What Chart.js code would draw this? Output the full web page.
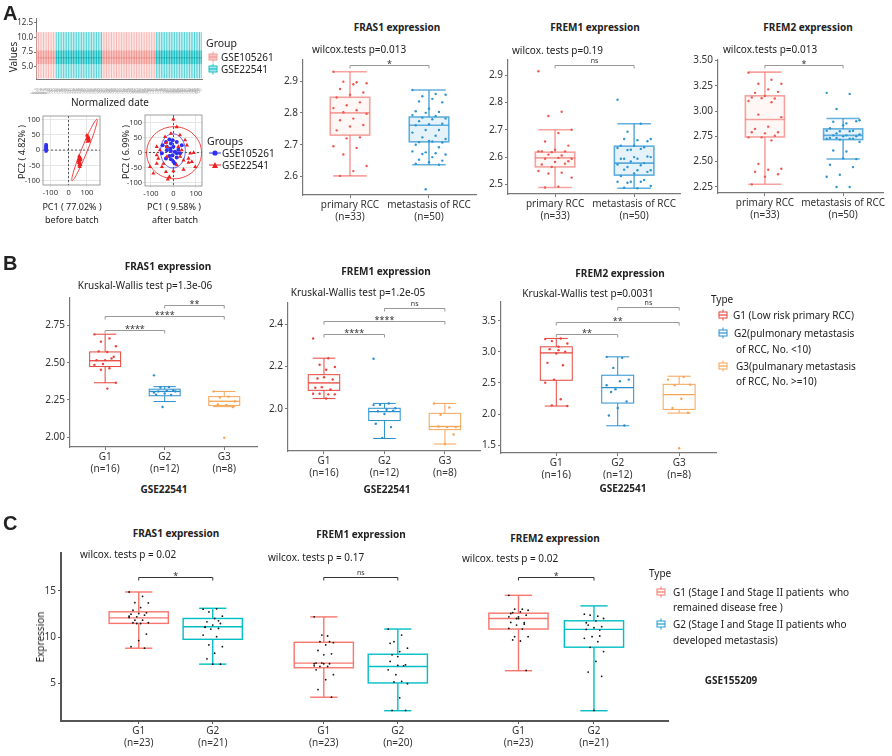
<!DOCTYPE html>
<html>
<head>
<meta charset="utf-8">
<script src="https://cdn.jsdelivr.net/npm/chart.js@4.4.1/dist/chart.umd.min.js"></script>
<style>
  body { margin: 0; width: 892px; height: 756px; position: relative; overflow: hidden; background: #fff; color: #222; font-family: 'Noto Sans', sans-serif; }
  canvas { position: absolute; }
  .t { position: absolute; white-space: nowrap; line-height: 1; font-size: 10px; }
  .b { font-weight: bold; }
  .big { font: bold 20px 'Liberation Sans', Arial, sans-serif; }
  svg { position: absolute; }
</style>
</head>
<body>
<script>
// ---------- data: panel A, normalized values ----------
const valueGroups = ['GSE105261', 'GSE22541', 'GSE105261', 'GSE22541'];
const valueBlockSizes = [12, 28, 32, 28];
const valueStats105261 = [3.0, 5.4, 6.5, 7.8, 10.9];
const valueStats22541 = [3.0, 5.4, 6.5, 7.8, 10.9];
const valueTicks = [5, 7.5, 10, 12.5];

// ---------- data: panel A, PCA ----------
const pcaBeforeBlue = [{x:-124,y:-4},{x:-122,y:0},{x:-125,y:3},{x:-121,y:6},{x:-123,y:9},{x:-124,y:12},{x:-121,y:15},{x:-123,y:18},{x:-122,y:-2},{x:-125,y:8},{x:-120,y:11},{x:-124,y:16}];
const pcaBeforeRed = [{x:58,y:-20},{x:62,y:-25},{x:55,y:-30},{x:65,y:-33},{x:60,y:-38},{x:57,y:-42},{x:63,y:-45},{x:59,y:-50},{x:61,y:-55},{x:66,y:-28},{x:54,y:-36},{x:64,y:-48},
  {x:104,y:28},{x:108,y:32},{x:102,y:36},{x:110,y:40},{x:106,y:44},{x:100,y:48},{x:112,y:34},{x:105,y:38},{x:109,y:30}];
const pcaAfterRed = [{x:0,y:111},{x:15,y:85},{x:-11,y:63},{x:29,y:58},{x:-33,y:33},{x:-29,y:19},{x:52,y:41},{x:60,y:24},{x:75,y:-3},{x:90,y:-1},{x:67,y:-20},{x:82,y:-31},
  {x:45,y:-26},{x:97,y:-48},{x:45,y:-57},{x:0,y:-62},{x:-33,y:-65},{x:-51,y:-48},{x:-74,y:-37},{x:-89,y:-70},{x:-104,y:-48},{x:-25,y:-90},{x:-18,y:-81},{x:-74,y:-9},
  {x:-60,y:8},{x:-74,y:19},{x:-37,y:52},{x:22,y:19},{x:37,y:8},{x:-29,y:-14},{x:-67,y:-20},{x:67,y:-34},{x:15,y:-42},{x:30,y:-14},{x:-44,y:-37}];
const pcaAfterBlue = [{x:-33,y:35},{x:-18,y:43},{x:-11,y:30},{x:0,y:19},{x:15,y:35},{x:-48,y:24},{x:-29,y:7},{x:-11,y:5},{x:7,y:2},{x:30,y:-3},{x:-4,y:-9},{x:-18,y:-12},
  {x:15,y:-17},{x:-33,y:-20},{x:0,y:-31},{x:-11,y:-23},{x:22,y:9},{x:37,y:24},{x:-29,y:19},{x:-3,y:41},{x:15,y:-3},{x:-14,y:13},{x:-51,y:-3},{x:7,y:-37}];
const pcaBeforeXTicks = [-100, 0, 100];
const pcaAfterXTicks = [-100, -50, 0, 50, 100];
const pcaYTicks = [-100, -50, 0, 50, 100];

// ---------- data: panel A, GEO boxplots ----------
const aLabels = [['primary RCC', '(n=33)'], ['metastasis of RCC', '(n=50)']];
const aFras1Stats = [[2.602, 2.73, 2.80, 2.849, 2.929], [2.637, 2.709, 2.761, 2.787, 2.872]];
const aFras1Primary = [2.929, 2.896, 2.898, 2.893, 2.89, 2.875, 2.864, 2.857, 2.848, 2.833, 2.824, 2.815, 2.808, 2.802, 2.797, 2.782, 2.777, 2.762, 2.757, 2.745, 2.723, 2.72, 2.695, 2.69, 2.669, 2.633, 2.617, 2.602];
const aFras1Meta = [2.872, 2.859, 2.852, 2.857, 2.844, 2.836, 2.833, 2.813, 2.805, 2.803, 2.80, 2.793, 2.79, 2.785, 2.782, 2.78, 2.774, 2.766, 2.764, 2.761, 2.746, 2.746, 2.738, 2.728, 2.723, 2.718, 2.71, 2.708, 2.707, 2.712, 2.70, 2.692, 2.676, 2.679, 2.673, 2.671, 2.669, 2.661, 2.653, 2.65, 2.645, 2.64, 2.637, 2.56];
const aFrem1Stats = [[2.489, 2.564, 2.597, 2.618, 2.70], [2.486, 2.534, 2.578, 2.64, 2.722]];
const aFrem1Primary = [2.914, 2.766, 2.75, 2.70, 2.688, 2.657, 2.642, 2.627, 2.621, 2.621, 2.618, 2.621, 2.606, 2.609, 2.594, 2.597, 2.594, 2.585, 2.582, 2.573, 2.576, 2.564, 2.549, 2.543, 2.54, 2.525, 2.492, 2.489];
const aFrem1Meta = [2.81, 2.722, 2.693, 2.666, 2.662, 2.666, 2.658, 2.642, 2.642, 2.636, 2.627, 2.633, 2.63, 2.626, 2.60, 2.594, 2.594, 2.602, 2.60, 2.594, 2.578, 2.584, 2.573, 2.57, 2.564, 2.552, 2.552, 2.554, 2.546, 2.54, 2.531, 2.516, 2.51, 2.51, 2.51, 2.506, 2.494, 2.486, 2.488];
const aFrem2Stats = [[2.276, 2.744, 2.917, 3.151, 3.385], [2.526, 2.718, 2.76, 2.824, 2.926]];
const aFrem2Primary = [3.38, 3.31, 3.27, 3.27, 3.215, 3.18, 3.19, 3.15, 3.135, 3.125, 3.128, 3.10, 3.087, 2.965, 2.94, 2.846, 2.824, 2.79, 2.78, 2.79, 2.756, 2.74, 2.74, 2.71, 2.478, 2.43, 2.42, 2.40, 2.375, 2.35, 2.275];
const aFrem2Meta = [3.18, 3.17, 3.02, 2.91, 2.878, 2.894, 2.90, 2.86, 2.83, 2.805, 2.80, 2.805, 2.80, 2.78, 2.77, 2.76, 2.76, 2.75, 2.75, 2.734, 2.728, 2.718, 2.728, 2.728, 2.734, 2.695, 2.60, 2.61, 2.525, 2.532, 2.47, 2.446, 2.37, 2.35, 2.25, 2.25];

// ---------- data: panel B, GSE22541 ----------
const bLabels = [['G1', '(n=16)'], ['G2', '(n=12)'], ['G3', '(n=8)']];
const bFras1Stats = [[2.365, 2.474, 2.513, 2.572, 2.691], [2.239, 2.278, 2.307, 2.322, 2.339], [2.205, 2.213, 2.241, 2.272, 2.307]];
const bFras1G1 = [2.69, 2.663, 2.641, 2.61, 2.572, 2.576, 2.54, 2.517, 2.517, 2.528, 2.491, 2.485, 2.463, 2.452, 2.365, 2.326];
const bFras1G2 = [2.415, 2.337, 2.333, 2.307, 2.311, 2.307, 2.315, 2.293, 2.285, 2.283, 2.202, 2.30];
const bFras1G3 = [2.307, 2.272, 2.267, 2.239, 2.217, 2.22, 2.202, 1.996];
const bFrem1Stats = [[2.048, 2.087, 2.122, 2.161, 2.239], [1.859, 1.944, 1.986, 2.002, 2.025], [1.833, 1.901, 1.916, 1.978, 2.025]];
const bFrem1G1 = [2.332, 2.239, 2.208, 2.197, 2.184, 2.143, 2.138, 2.149, 2.099, 2.091, 2.102, 2.071, 2.068, 2.071, 2.068, 2.048];
const bFrem1G2 = [2.236, 2.025, 2.019, 2.002, 1.995, 1.988, 1.991, 1.975, 1.929, 1.913, 1.862, 2.017];
const bFrem1G3 = [2.025, 2.006, 1.971, 1.913, 1.913, 1.916, 1.878, 1.833];
const bFrem2Stats = [[2.129, 2.543, 2.984, 3.08, 3.215], [1.812, 2.177, 2.425, 2.624, 2.919], [2.016, 2.075, 2.312, 2.478, 2.608]];
const bFrem2G1 = [3.204, 3.215, 3.172, 3.134, 3.081, 3.043, 3.0, 2.973, 2.823, 2.785, 2.554, 2.505, 2.237, 2.14, 2.129, 3.027];
const bFrem2G2 = [2.919, 2.903, 2.742, 2.554, 2.527, 2.355, 2.204, 2.097, 1.978, 1.817, 2.398, 2.462];
const bFrem2G3 = [2.554, 2.597, 2.462, 2.473, 2.247, 2.097, 2.022, 1.452];

// ---------- data: panel C, GSE155209 ----------
const cLabels = [['G1', '(n=23)'], ['G2', '(n=21)'], ['G1', '(n=23)'], ['G2', '(n=20)'], ['G1', '(n=23)'], ['G2', '(n=21)']];
const cPositions = [1, 2, 3.5, 4.5, 6.13, 7.15];
const cStats = [[8.79, 11.47, 12.07, 12.72, 14.86], [7.07, 9.75, 11.1, 12.0, 13.1],
  [3.5, 6.68, 7.18, 9.43, 12.17], [2.04, 5.04, 6.82, 8.14, 10.86],
  [6.36, 10.86, 12.0, 12.57, 14.5], [2.04, 8.9, 10.82, 11.75, 13.36]];
const cFras1G1 = [14.86, 14.39, 13.71, 13.68, 13.18, 12.89, 12.61, 12.54, 12.46, 12.36, 12.18, 12.11, 11.82, 11.82, 11.54, 11.46, 11.54, 10.32, 9.61, 8.96, 8.79, 11.46, 12.25];
const cFras1G2 = [13.0, 13.04, 12.71, 12.25, 12.0, 11.64, 11.46, 11.29, 11.11, 10.93, 10.86, 10.21, 10.04, 9.14, 8.96, 8.25, 7.64, 7.07, 7.07, 11.04, 11.75];
const cFrem1G1 = [12.18, 10.11, 9.5, 9.39, 9.14, 8.54, 8.18, 8.07, 7.18, 7.11, 7.18, 6.89, 6.82, 6.82, 5.93, 5.39, 4.32, 3.5, 7.11, 6.46, 9.5, 10.21, 7.11];
const cFrem1G2 = [10.86, 10.21, 9.5, 8.79, 8.43, 8.07, 7.0, 6.93, 7.36, 6.89, 5.93, 6.46, 5.21, 5.14, 4.96, 3.43, 2.07, 2.07, 7.89, 9.32];
const cFrem2G1 = [14.5, 13.0, 13.0, 12.89, 12.71, 12.64, 12.36, 12.18, 11.57, 11.39, 11.29, 10.93, 10.86, 10.04, 10.04, 9.57, 9.68, 6.39, 12.0, 12.54, 11.54, 12.0, 12.18];
const cFrem2G2 = [12.46, 12.25, 12.36, 12.0, 11.75, 11.29, 11.11, 11.0, 10.82, 10.11, 10.04, 9.86, 9.5, 8.89, 8.43, 7.36, 6.21, 5.75, 2.07, 11.54, 10.75];
const cTicks = [5, 10, 15];

// ---------- colours ----------
const RED = '#F8766D', CYAN = '#00BFC4';
const A_RED = '#EC5A52', A_BLUE = '#2E95D3';
const B_RED = '#E8453C', B_BLUE = '#2A8FCE', B_ORANGE = '#F5A456';

Chart.defaults.font.family = "'Noto Sans', sans-serif";
Chart.defaults.color = '#333';
Chart.defaults.animation = false;
Chart.defaults.plugins.legend.display = false;
Chart.defaults.plugins.tooltip.enabled = false;

// small deterministic horizontal spread for the jittered points
const jit = (i, s) => ((((i * 7) % 11) / 10) - 0.5) * s;

function line(ctx, x1, y1, x2, y2) {
  ctx.beginPath(); ctx.moveTo(x1, y1); ctx.lineTo(x2, y2); ctx.stroke();
}

// draws box + whiskers from the stats, and the significance brackets
const boxPlugin = {
  id: 'boxes',
  beforeDatasetsDraw(chart, args, o) {
    if (!o.stats) return;
    const { ctx, scales: { x, y } } = chart;
    o.stats.forEach((s, i) => {
      const cx = x.getPixelForValue(o.positions[i]);
      const half = x.getPixelForValue(o.positions[i] + o.boxW / 2) - cx;
      const cap = half * o.capW;
      const [lo, q1, md, q3, hi] = s.map(v => y.getPixelForValue(v));
      ctx.save();
      ctx.strokeStyle = o.stroke[i];
      ctx.lineWidth = o.lineW;
      line(ctx, cx, hi, cx, q3);
      line(ctx, cx, q1, cx, lo);
      if (cap > 0) {
        line(ctx, cx - cap, hi, cx + cap, hi);
        line(ctx, cx - cap, lo, cx + cap, lo);
      }
      ctx.fillStyle = o.fill[i];
      ctx.fillRect(cx - half, q3, 2 * half, q1 - q3);
      if (o.boxLine !== false) ctx.strokeRect(cx - half, q3, 2 * half, q1 - q3);
      ctx.strokeStyle = o.medColor ? o.medColor[i] : o.stroke[i];
      ctx.lineWidth = o.medW || o.lineW;
      line(ctx, cx - half, md, cx + half, md);
      ctx.restore();
    });
  },
  afterDatasetsDraw(chart, args, o) {
    if (!o.brackets) return;
    const { ctx, scales: { x, y } } = chart;
    ctx.save();
    ctx.strokeStyle = o.bracketColor;
    ctx.fillStyle = '#333';
    ctx.lineWidth = 1;
    ctx.textAlign = 'center';
    ctx.textBaseline = 'bottom';
    o.brackets.forEach(([i, j, v, lab]) => {
      const x1 = x.getPixelForValue(o.positions[i]);
      const x2 = x.getPixelForValue(o.positions[j]);
      const py = Math.round(y.getPixelForValue(v)) + 0.5;
      ctx.beginPath();
      ctx.moveTo(x1, py + 3); ctx.lineTo(x1, py); ctx.lineTo(x2, py); ctx.lineTo(x2, py + 3);
      ctx.stroke();
      ctx.font = (lab === 'ns' ? '7px' : '9px') + " 'Noto Sans', sans-serif";
      ctx.fillText(lab, (x1 + x2) / 2, py + (lab === 'ns' ? -1 : 3));
    });
    ctx.restore();
  }
};

// frame, dashed zero lines and ellipses of the PCA plots
const pcaPlugin = {
  id: 'pca',
  beforeDatasetsDraw(chart, args, o) {
    if (!o.ellipses) return;
    const { ctx, chartArea: a, scales: { x, y } } = chart;
    ctx.save();
    ctx.strokeStyle = '#333';
    ctx.lineWidth = 0.8;
    ctx.setLineDash([2, 2]);
    line(ctx, x.getPixelForValue(0), a.top, x.getPixelForValue(0), a.bottom);
    line(ctx, a.left, y.getPixelForValue(0), a.right, y.getPixelForValue(0));
    ctx.setLineDash([]);
    o.ellipses.forEach(e => {
      ctx.strokeStyle = e.color;
      ctx.lineWidth = 0.9;
      ctx.beginPath();
      for (let k = 0; k <= 72; k++) {
        const t = k / 72 * Math.PI * 2;
        const px = x.getPixelForValue(e.c[0] + e.a[0] * Math.cos(t) + e.b[0] * Math.sin(t));
        const py = y.getPixelForValue(e.c[1] + e.a[1] * Math.cos(t) + e.b[1] * Math.sin(t));
        k ? ctx.lineTo(px, py) : ctx.moveTo(px, py);
      }
      ctx.stroke();
    });
    ctx.restore();
  },
  afterDraw(chart, args, o) {
    if (!o.ellipses) return;
    const { ctx, chartArea: a } = chart;
    ctx.save();
    ctx.strokeStyle = '#888';
    ctx.lineWidth = 0.8;
    ctx.strokeRect(a.left, a.top, a.right - a.left, a.bottom - a.top);
    ctx.restore();
  }
};
Chart.register(boxPlugin, pcaPlugin);

function mkCanvas(box) {
  const c = document.createElement('canvas');
  c.width = box[2]; c.height = box[3];
  c.style.left = box[0] + 'px'; c.style.top = box[1] + 'px';
  c.style.width = box[2] + 'px'; c.style.height = box[3] + 'px';
  document.body.appendChild(c);
  return c;
}

// pin the chart area to the plot rectangle [left, top, right, bottom]
function layout(box, plot) {
  const [bx, by, bw, bh] = box, [l, t, r, b] = plot;
  return {
    padding: { left: 0, top: t - by, right: bx + bw - r, bottom: 0 },
    yFit: s => { s.width = l - bx; },
    xFit: s => { s.height = by + bh - b; }
  };
}

function boxChart(cfg) {
  const L = layout(cfg.box, cfg.plot);
  const datasets = cfg.points.map((pts, g) => ({
    data: pts.map((v, i) => ({ x: cfg.positions[g] + jit(i, cfg.spread), y: v })),
    pointRadius: cfg.ptR,
    backgroundColor: cfg.ptColor[g],
    borderWidth: 0
  }));
  const axisC = cfg.axisColor, axisW = cfg.axisW;
  new Chart(mkCanvas(cfg.box), {
    type: 'scatter',
    data: { datasets },
    options: {
      responsive: false,
      layout: { padding: L.padding },
      scales: {
        x: {
          type: 'linear', min: cfg.xRange[0], max: cfg.xRange[1],
          afterFit: L.xFit,
          afterBuildTicks: s => { s.ticks = cfg.positions.map(v => ({ value: v })); },
          ticks: { callback: v => cfg.labels[cfg.positions.indexOf(v)], font: { size: cfg.xFont }, color: '#333', padding: 1, maxRotation: 0, autoSkip: false },
          grid: { drawOnChartArea: false, tickLength: 3, color: axisC },
          border: { color: axisC, width: axisW }
        },
        y: {
          min: cfg.yRange[0], max: cfg.yRange[1],
          afterFit: L.yFit,
          afterBuildTicks: s => { s.ticks = cfg.yTicks.map(v => ({ value: v })); },
          ticks: { callback: v => v.toFixed(cfg.yDec), font: { size: cfg.yFont }, color: '#333', padding: 2 },
          grid: { drawOnChartArea: false, tickLength: 3, color: axisC },
          border: { color: axisC, width: axisW }
        }
      },
      plugins: {
        boxes: {
          stats: cfg.stats, positions: cfg.positions, boxW: cfg.boxW, capW: cfg.capW,
          stroke: cfg.stroke, fill: cfg.fill, lineW: cfg.lineW, medW: cfg.medW,
          brackets: cfg.brackets, bracketColor: cfg.bracketColor
        }
      }
    }
  });
}

function pcaChart(cfg) {
  const L = layout(cfg.box, cfg.plot);
  const gridC = '#E6E6E6';
  new Chart(mkCanvas(cfg.box), {
    type: 'scatter',
    data: {
      datasets: [
        { data: cfg.red, pointStyle: 'triangle', pointRadius: 2.4, backgroundColor: '#EE2020', borderColor: '#EE2020', borderWidth: 0 },
        { data: cfg.blue, pointStyle: cfg.blueStyle, pointRadius: 2, backgroundColor: '#3030F0', borderColor: '#3030F0', borderWidth: 0 }
      ]
    },
    options: {
      responsive: false,
      layout: { padding: L.padding },
      scales: {
        x: {
          type: 'linear', min: cfg.xRange[0], max: cfg.xRange[1], afterFit: L.xFit,
          afterBuildTicks: s => { s.ticks = cfg.xTicks.map(v => ({ value: v })); },
          ticks: { font: { size: 7.5 }, color: '#333', padding: 1, maxRotation: 0 },
          grid: { color: gridC, tickLength: 2 }, border: { display: false }
        },
        y: {
          min: cfg.yRange[0], max: cfg.yRange[1], afterFit: L.yFit,
          afterBuildTicks: s => { s.ticks = pcaYTicks.map(v => ({ value: v })); },
          ticks: { font: { size: 7.5 }, color: '#333', padding: 1 },
          grid: { color: gridC, tickLength: 2 }, border: { display: false }
        }
      },
      plugins: { pca: { ellipses: cfg.ellipses } }
    }
  });
}

// ---------- text helpers ----------
function put(s, x, y, cls, anchor, css) {
  const d = document.createElement('div');
  d.className = 't ' + (cls || '');
  d.textContent = s;
  d.style.left = x + 'px';
  d.style.top = y + 'px';
  if (css) d.style.cssText += css;
  d.style.transform = anchor === 'l' ? 'translate(0,-50%)' : anchor === 'r' ? 'translate(-50%,-50%) rotate(-90deg)' : 'translate(-50%,-50%)';
  document.body.appendChild(d);
}
function boxIcon(x, cy, color, fill) {
  const ns = 'http://www.w3.org/2000/svg';
  const s = document.createElementNS(ns, 'svg');
  s.setAttribute('width', 10); s.setAttribute('height', 12);
  s.style.left = x + 'px'; s.style.top = (cy - 6) + 'px';
  s.innerHTML = `<line x1="5" y1="0.5" x2="5" y2="11.5" stroke="${color}" stroke-width="1"/>` +
    `<rect x="1" y="3" width="8" height="6" fill="${fill}" stroke="${color}" stroke-width="1"/>` +
    `<line x1="1" y1="6" x2="9" y2="6" stroke="${color}" stroke-width="1.2"/>`;
  document.body.appendChild(s);
}
function markIcon(x, cy, color, shape) {
  const ns = 'http://www.w3.org/2000/svg';
  const s = document.createElementNS(ns, 'svg');
  s.setAttribute('width', 12); s.setAttribute('height', 8);
  s.style.left = x + 'px'; s.style.top = (cy - 4) + 'px';
  const m = shape === 'tri' ? `<polygon points="6,1 9,7 3,7" fill="${color}"/>` : `<circle cx="6" cy="4" r="2.6" fill="${color}"/>`;
  s.innerHTML = `<line x1="0" y1="4" x2="12" y2="4" stroke="${color}" stroke-width="1"/>` + m;
  document.body.appendChild(s);
}

// ---------- panel A: normalized values ----------
const sampleGroup = [];
valueGroups.forEach((g, k) => { for (let i = 0; i < valueBlockSizes[k]; i++) sampleGroup.push(g); });
const sampleIds = sampleGroup.map((g, i) => 'sample_' + (i + 1));
const sampleStats = sampleGroup.map(g => g === 'GSE105261' ? valueStats105261 : valueStats22541);
(function () {
  const box = [8, 10, 200, 84], plot = [36, 18, 202, 79];
  const L = layout(box, plot);
  new Chart(mkCanvas(box), {
    type: 'line',
    data: { labels: sampleIds, datasets: [{ data: sampleStats.map(s => s[2]), pointRadius: 0, showLine: false }] },
    options: {
      responsive: false,
      layout: { padding: L.padding },
      scales: {
        x: {
          offset: true, afterFit: L.xFit,
          ticks: { autoSkip: false, minRotation: 45, maxRotation: 45, font: { size: 4.5 }, color: '#aaa', padding: 0 },
          grid: { display: false }, border: { color: '#777', width: 1 }
        },
        y: {
          min: 2.9, max: 13.3, afterFit: L.yFit,
          afterBuildTicks: s => { s.ticks = valueTicks.map(v => ({ value: v })); },
          ticks: { callback: v => v.toFixed(1), font: { size: 8 }, color: '#333', padding: 1 },
          grid: { drawOnChartArea: false, tickLength: 2, color: '#777' }, border: { color: '#777', width: 1 }
        }
      },
      plugins: {
        boxes: {
          stats: sampleStats, positions: sampleGroup.map((g, i) => i), boxW: 0.8, capW: 0,
          stroke: sampleGroup.map(g => g === 'GSE105261' ? '#F7B0AC' : '#3CCBCF'),
          fill: sampleGroup.map(g => g === 'GSE105261' ? '#F39A95' : '#1CBFC3'),
          medColor: sampleGroup.map(g => g === 'GSE105261' ? '#E9827C' : '#16A5A9'),
          boxLine: false, lineW: 0.9, medW: 1
        }
      }
    }
  });
})();

// ---------- panel A: PCA ----------
pcaChart({
  box: [20, 110, 85, 85], plot: [43, 116, 100, 185],
  xRange: [-140, 172], yRange: [-114, 111], xTicks: pcaBeforeXTicks,
  red: pcaBeforeRed, blue: pcaBeforeBlue, blueStyle: 'rect',
  ellipses: [
    { c: [87, 0], a: [68, 100], b: [15, -3.6], color: '#EE3030' },
    { c: [-123, 7], a: [0, 14], b: [4, 0], color: '#3030F0' }
  ]
});
pcaChart({
  box: [122, 108, 85, 90], plot: [145, 115, 202, 186],
  xRange: [-126, 127], yRange: [-112, 125], xTicks: pcaAfterXTicks,
  red: pcaAfterRed, blue: pcaAfterBlue, blueStyle: 'circle',
  ellipses: [
    { c: [3, -1], a: [122, 0], b: [0, 87], color: '#EE3030' },
    { c: [-2, 5], a: [55, 0], b: [0, 57], color: '#5050F0' }
  ]
});

// ---------- panel A: boxplots ----------
const aCommon = {
  labels: aLabels, positions: [1, 2], boxW: 0.5, capW: 0.85, spread: 0.42, ptR: 1.2,
  stroke: ['rgba(236,90,82,0.55)', 'rgba(46,149,211,0.75)'],
  fill: ['rgba(248,118,109,0.06)', 'rgba(46,149,211,0.12)'],
  ptColor: [A_RED, A_BLUE], lineW: 1.6, medW: 1.6,
  axisColor: '#777', axisW: 1.2, bracketColor: '#999', xFont: 10, yFont: 10
};
boxChart(Object.assign({}, aCommon, {
  box: [280, 52, 205, 170], plot: [303, 58, 476, 195], xRange: [0.405, 2.595],
  yRange: [2.542, 2.966], yTicks: [2.6, 2.7, 2.8, 2.9], yDec: 1,
  stats: aFras1Stats, points: [aFras1Primary, aFras1Meta], brackets: [[0, 1, 2.949, '*']]
}));
boxChart(Object.assign({}, aCommon, {
  box: [484, 52, 205, 170], plot: [508, 58, 680, 194], xRange: [0.405, 2.58],
  yRange: [2.465, 2.955], yTicks: [2.5, 2.6, 2.7, 2.8, 2.9], yDec: 1,
  stats: aFrem1Stats, points: [aFrem1Primary, aFrem1Meta], brackets: [[0, 1, 2.935, 'ns']]
}));
boxChart(Object.assign({}, aCommon, {
  box: [690, 52, 200, 170], plot: [718, 58, 883, 193], xRange: [0.4, 2.51],
  yRange: [2.19, 3.505], yTicks: [2.25, 2.5, 2.75, 3.0, 3.25, 3.5], yDec: 2,
  stats: aFrem2Stats, points: [aFrem2Primary, aFrem2Meta], brackets: [[0, 1, 3.455, '*']]
}));

// ---------- panel B ----------
const bCommon = {
  labels: bLabels, positions: [1, 2, 3], boxW: 0.52, capW: 0.72, spread: 0.36, ptR: 1.2,
  stroke: [B_RED, B_BLUE, B_ORANGE], fill: ['#fff', '#fff', '#fff'],
  ptColor: [B_RED, B_BLUE, B_ORANGE], lineW: 1, medW: 1.3,
  axisColor: '#777', axisW: 1.2, bracketColor: '#999', xFont: 10, yFont: 10
};
boxChart(Object.assign({}, bCommon, {
  box: [35, 290, 230, 185], plot: [70, 295, 257, 447], xRange: [0.41, 3.55],
  yRange: [1.934, 2.934], yTicks: [2.0, 2.25, 2.5, 2.75], yDec: 2,
  stats: bFras1Stats, points: [bFras1G1, bFras1G2, bFras1G3],
  brackets: [[1, 2, 2.89, '**'], [0, 2, 2.814, '****'], [0, 1, 2.722, '****']]
}));
boxChart(Object.assign({}, bCommon, {
  box: [258, 295, 230, 185], plot: [288, 300, 480, 451], xRange: [0.405, 3.58],
  yRange: [1.80, 2.50], yTicks: [2.0, 2.2, 2.4], yDec: 1,
  stats: bFrem1Stats, points: [bFrem1G1, bFrem1G2, bFrem1G3],
  brackets: [[1, 2, 2.476, 'ns'], [0, 2, 2.414, '****'], [0, 1, 2.355, '****']]
}));
boxChart(Object.assign({}, bCommon, {
  box: [475, 294, 245, 185], plot: [501, 299, 716, 453], xRange: [0.1, 3.6],
  yRange: [1.375, 3.80], yTicks: [1.5, 2.0, 2.5, 3.0, 3.5], yDec: 1,
  stats: bFrem2Stats, points: [bFrem2G1, bFrem2G2, bFrem2G3],
  brackets: [[1, 2, 3.72, 'ns'], [0, 2, 3.484, '**'], [0, 1, 3.28, '**']]
}));

// ---------- panel C ----------
boxChart({
  labels: cLabels, positions: cPositions, boxW: 0.8, capW: 0.46, spread: 0.26, ptR: 0.9,
  stroke: [RED, CYAN, RED, CYAN, RED, CYAN], fill: ['#fff', '#fff', '#fff', '#fff', '#fff', '#fff'],
  ptColor: ['#111', '#111', '#111', '#111', '#111', '#111'], lineW: 1.4, medW: 1.4,
  axisColor: '#555', axisW: 2, bracketColor: '#333', xFont: 10, yFont: 10,
  box: [45, 545, 630, 211], plot: [61, 552, 668, 721], xRange: [-0.05, 8.15],
  yRange: [0.93, 19.07], yTicks: cTicks, yDec: 0,
  stats: cStats, points: [cFras1G1, cFras1G2, cFrem1G1, cFrem1G2, cFrem2G1, cFrem2G2],
  brackets: [[0, 1, 16.46, '*'], [2, 3, 16.46, 'ns'], [4, 5, 16.46, '*']]
});

// ---------- text ----------
put('A', 3, 13, 'big', 'l');
put('B', 3, 263, 'big', 'l');
put('C', 3, 523, 'big', 'l');

put('Values', 13, 57, '', 'r');
put('Normalized date', 110, 102);
put('Group', 206, 43, '', 'l', 'font-size:10.5px');
boxIcon(208, 57, '#F39A95', '#F8C9C6');
boxIcon(208, 69, '#1CBFC3', '#A8E8EA');
put('GSE105261', 221, 57, '', 'l');
put('GSE22541', 221, 69, '', 'l');

put('PC2 ( 4.82% )', 21, 152, '', 'r', 'font-size:9px');
put('PC1 ( 77.02% )', 72, 206, '', '', 'font-size:9px');
put('before batch', 72, 219, '', '', 'font-size:9px');
put('PC2 ( 6.99% )', 125, 152, '', 'r', 'font-size:9px');
put('PC1 ( 9.58% )', 174, 206, '', '', 'font-size:9px');
put('after batch', 175, 219, '', '', 'font-size:9px');
put('Groups', 207, 141, '', 'l', 'font-size:10.5px');
markIcon(209, 153, '#3030F0', 'dot');
markIcon(209, 165, '#EE2020', 'tri');
put('GSE105261', 222, 153, '', 'l');
put('GSE22541', 222, 165, '', 'l');

put('FRAS1 expression', 397, 27, 'b');
put('FREM1 expression', 595, 27, 'b');
put('FREM2 expression', 808, 27, 'b');
put('wilcox.tests p=0.013', 312, 49, '', 'l');
put('wilcox. tests p=0.19', 512, 50, '', 'l');
put('wilcox.tests p=0.013', 723, 49, '', 'l');

put('FRAS1 expression', 168, 266, 'b');
put('FREM1 expression', 386, 271, 'b');
put('FREM2 expression', 620, 273, 'b');
put('Kruskal-Wallis test p=1.3e-06', 145, 285);
put('Kruskal-Wallis test p=1.2e-05', 358, 292);
put('Kruskal-Wallis test p=0.0031', 588, 293);
put('GSE22541', 164, 489, 'b');
put('GSE22541', 387, 489, 'b');
put('GSE22541', 623, 488, 'b');
put('Type', 711, 299, '', 'l');
boxIcon(718, 315, B_RED, '#fff');
boxIcon(718, 333, B_BLUE, '#fff');
boxIcon(718, 366, B_ORANGE, '#fff');
put('G1 (Low risk primary RCC)', 733, 315, '', 'l');
put('G2(pulmonary metastasis', 734, 333, '', 'l');
put('of RCC, No. <10)', 736, 349, '', 'l');
put('G3(pulmanary metastasis', 736, 366, '', 'l');
put('of RCC, No. >=10)', 736, 381, '', 'l');

put('FRAS1 expression', 176, 533, 'b');
put('FREM1 expression', 361, 534, 'b');
put('FREM2 expression', 555, 538, 'b');
put('wilcox. tests p = 0.02', 80, 554, '', 'l');
put('wilcox. tests p = 0.17', 268, 557, '', 'l');
put('wilcox. tests p = 0.02', 462, 558, '', 'l');
put('Expression', 40, 637, '', 'r');
put('Type', 649, 573, '', 'l');
boxIcon(656, 592, RED, '#fff');
boxIcon(656, 624, '#1D9BD6', '#fff');
put('G1 (Stage I and Stage II patients  who', 673, 592, '', 'l', 'white-space:pre');
put('remained disease free )', 673, 607, '', 'l');
put('G2 (Stage I and Stage II patients who', 673, 624, '', 'l');
put('developed metastasis)', 673, 640, '', 'l');
put('GSE155209', 731, 680, 'b');
</script>
</body>
</html>
